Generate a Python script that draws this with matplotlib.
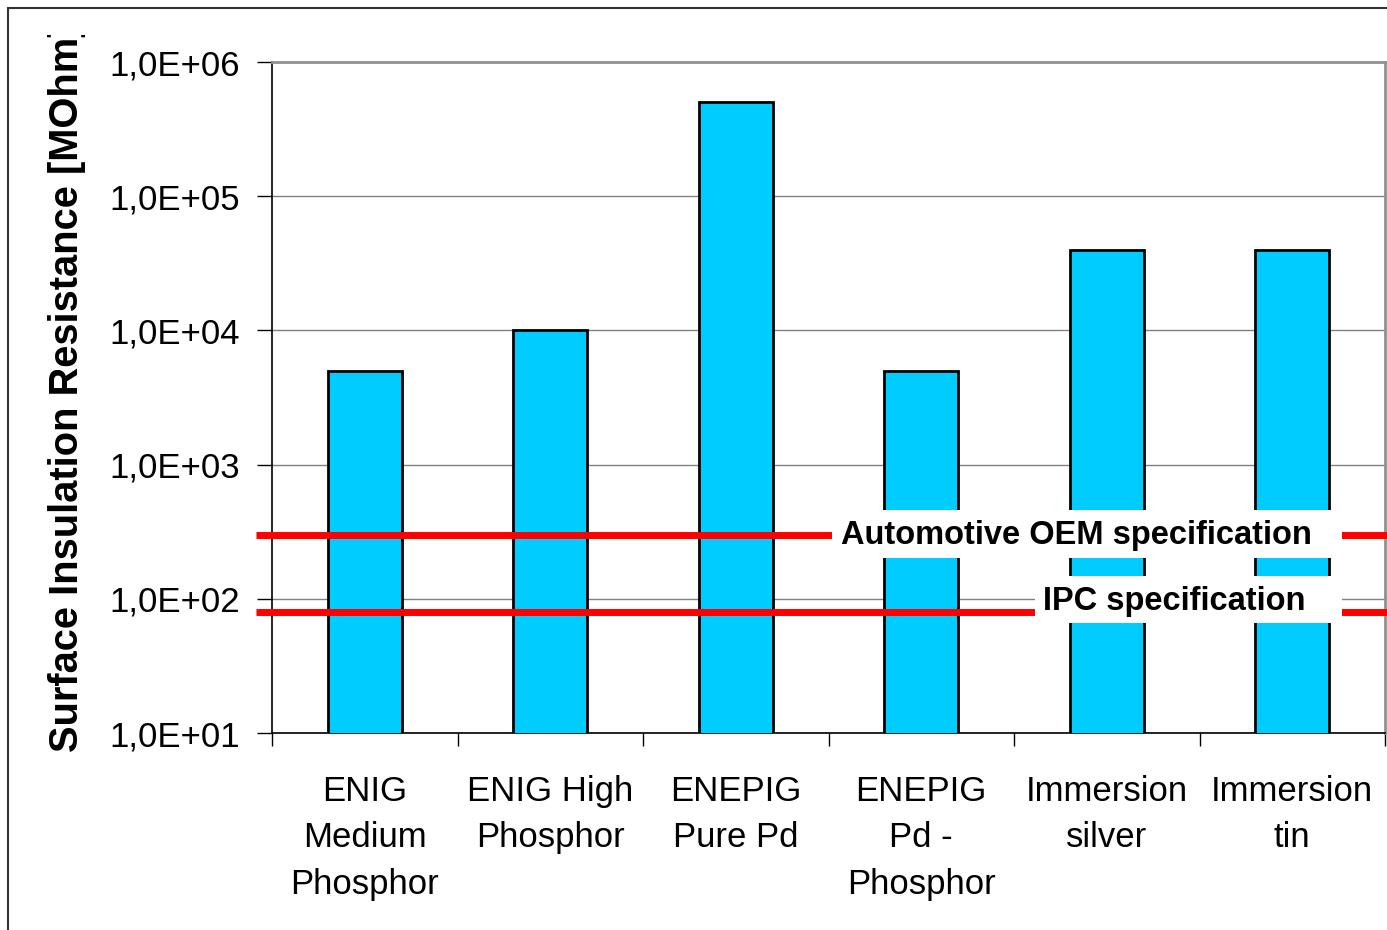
import matplotlib.pyplot as plt
from matplotlib.patches import Rectangle
from matplotlib.ticker import FixedLocator, FuncFormatter, NullFormatter
from matplotlib.transforms import Bbox, TransformedBbox, blended_transform_factory
import numpy as np

plt.rcParams['font.family'] = ['Liberation Sans', 'DejaVu Sans']

# data
finishes = ['ENIG\nMedium\nPhosphor', 'ENIG High\nPhosphor', 'ENEPIG\nPure Pd',
            'ENEPIG\nPd -\nPhosphor', 'Immersion\nsilver', 'Immersion\ntin']
sir_mohm = [5.0e3, 1.0e4, 5.0e5, 5.0e3, 4.0e4, 4.0e4]
spec_names = ['Automotive OEM specification', 'IPC specification']
spec_values = [300, 80]
y_ticks = [1e1, 1e2, 1e3, 1e4, 1e5, 1e6]

W, H = 1387, 930
fig = plt.figure(figsize=(W / 100, H / 100), dpi=100)
ax = fig.add_axes([272 / W, 1 - 733 / H, (1385 - 272) / W, (733 - 62) / H])

x = np.arange(len(finishes))
ax.bar(x, sir_mohm, width=0.4, color='#00CCFF', edgecolor='black', linewidth=2, zorder=3)

ax.set_yscale('log')
ax.set_ylim(y_ticks[0], y_ticks[-1])
ax.set_xlim(-0.5, len(finishes) - 0.5)

ax.yaxis.set_major_locator(FixedLocator(y_ticks))
ax.yaxis.set_minor_locator(FixedLocator([]))
ax.yaxis.set_major_formatter(FuncFormatter(lambda v, p: '1,0E+%02d' % round(np.log10(v))))
ax.tick_params(axis='y', which='major', length=11, width=1, pad=12, labelsize=25, color='black')
ax.grid(axis='y', which='major', color='#808080', linewidth=1, zorder=0)

# boundary ticks on the category axis, labels in between
ax.xaxis.set_major_locator(FixedLocator(np.arange(-0.5, len(finishes), 1.0)))
ax.xaxis.set_major_formatter(NullFormatter())
ax.xaxis.set_minor_locator(FixedLocator(x))
ax.set_xticklabels(finishes, minor=True, fontsize=25, linespacing=1.53)
ax.tick_params(axis='x', which='major', length=9, width=1, color='black')
ax.tick_params(axis='x', which='minor', length=0, pad=30)

for s in ['top', 'right']:
    ax.spines[s].set_color('#909090')
    ax.spines[s].set_linewidth(2)
for s in ['left', 'bottom']:
    ax.spines[s].set_color('black')
    ax.spines[s].set_linewidth(1.2)

# specification lines, running past the axes on both sides
trans = blended_transform_factory(ax.transAxes, ax.transData)
for val in spec_values:
    ax.plot([-0.014, 1.01], [val, val], transform=trans, color='#FF0000',
            linewidth=5, clip_on=False, zorder=4, solid_capstyle='butt')

# white label boxes (axes fraction) and their texts
boxes = [(0.503, 0.2608, 0.4584, 0.0715), (0.6855, 0.164, 0.2759, 0.070)]
text_pos = [(0.7224, 0.2936), (0.8104, 0.1967)]
for name, (bx, by, bw, bh), (tx, ty) in zip(spec_names, boxes, text_pos):
    ax.add_patch(Rectangle((bx, by), bw, bh, transform=ax.transAxes, facecolor='white',
                           edgecolor='none', zorder=5))
    ax.text(tx, ty, name, transform=ax.transAxes, ha='center', va='center',
            fontsize=23.5, fontweight='bold', zorder=6)

ylab = fig.text(67 / W, 1 - 752 / H, 'Surface Insulation Resistance [MOhm]', rotation=90,
                ha='center', va='bottom', fontsize=28.7, fontweight='bold')
ylab.set_clip_box(TransformedBbox(Bbox([[0, 0], [1, 1 - 35 / H]]), fig.transFigure))
ylab.set_clip_on(True)

fig.patches.append(Rectangle((8 / W, -0.1), 1.2, 1.1 - 8 / H, transform=fig.transFigure,
                             fill=False, edgecolor='#333333', linewidth=1.5))

fig.savefig('out.png', dpi=100)
